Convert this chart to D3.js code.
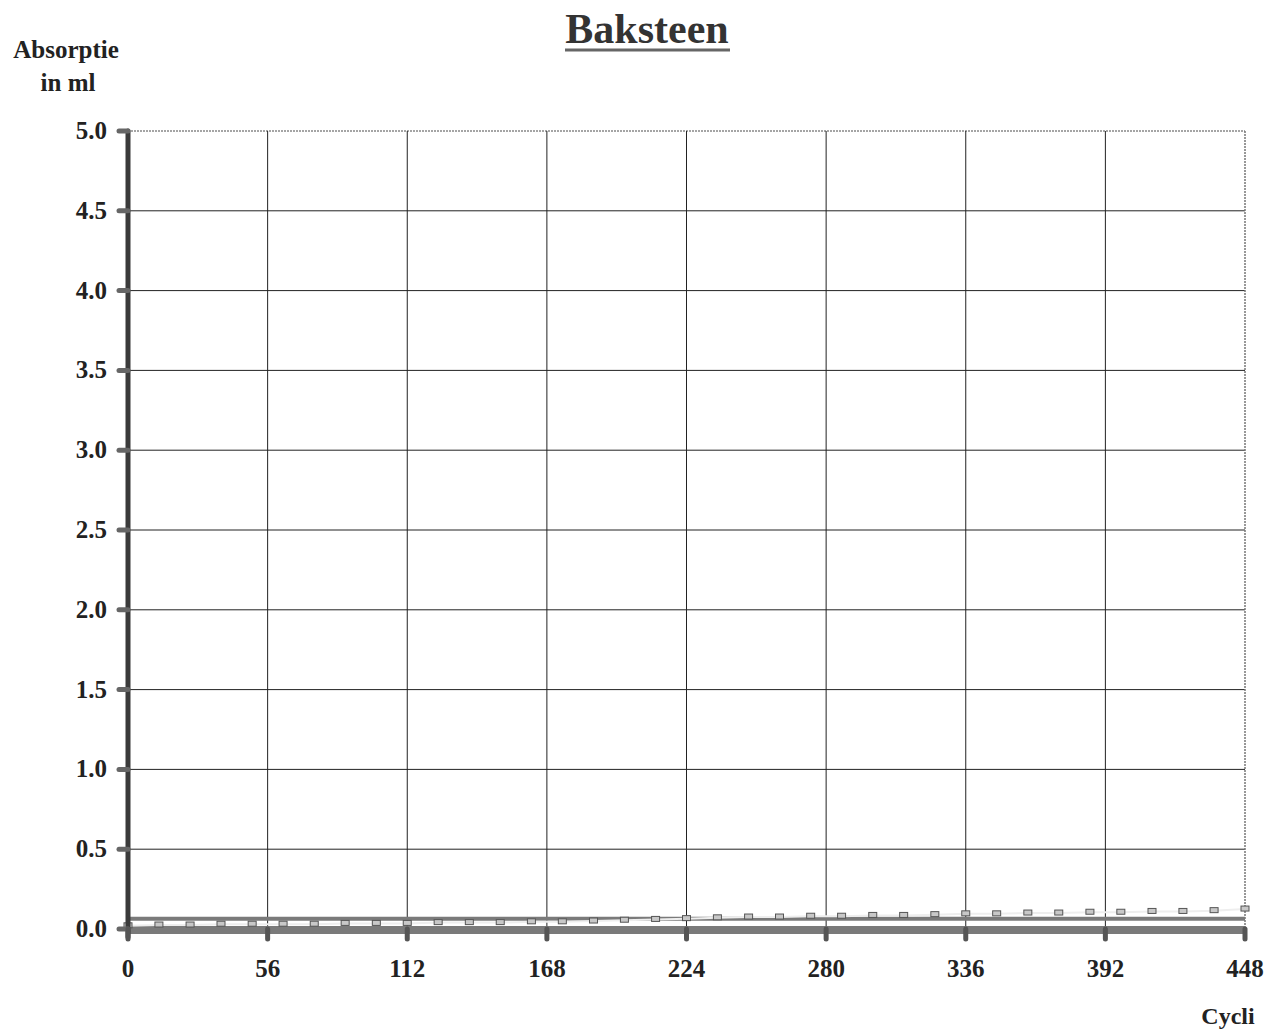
<!DOCTYPE html>
<html><head><meta charset="utf-8">
<script src="https://cdn.jsdelivr.net/npm/d3@7"></script>
<style>body{margin:0;background:#fff}svg{display:block}text{font-family:"Liberation Serif","Times New Roman",serif;font-weight:bold;fill:#222}</style>
</head><body>
<svg id="c" width="1278" height="1033"></svg>
<script>
const xTicks = [0,56,112,168,224,280,336,392,448];
const yTicks = [0.0,0.5,1.0,1.5,2.0,2.5,3.0,3.5,4.0,4.5,5.0];
const cycles = [0,12.4,24.9,37.3,49.8,62.2,74.7,87.1,99.6,112,124.4,136.9,149.3,161.8,174.2,186.7,199.1,211.6,224,236.4,248.9,261.3,273.8,286.2,298.7,311.1,323.6,336,348.4,360.9,373.3,385.8,398.2,410.7,423.1,435.6,448];
const seriesMarkers = [0.02,0.025,0.025,0.03,0.03,0.03,0.03,0.035,0.035,0.035,0.04,0.04,0.04,0.045,0.045,0.05,0.055,0.06,0.065,0.07,0.075,0.075,0.08,0.08,0.085,0.085,0.09,0.095,0.095,0.1,0.1,0.105,0.105,0.11,0.11,0.115,0.125];
const seriesBand = [0.065,0.065,0.065,0.065,0.065,0.065,0.065,0.065,0.065,0.065,0.065,0.065,0.065,0.065,0.065,0.065,0.065,0.065,0.065,0.065,0.065,0.065,0.065,0.065,0.065,0.065,0.065,0.065,0.065,0.065,0.065,0.065,0.065,0.065,0.065,0.065,0.065];

const svg = d3.select("#c");
const x = d3.scaleLinear().domain([0,448]).range([128,1245]);
const y = d3.scaleLinear().domain([0,5]).range([929,131]);

// title
svg.append("text").attr("x",647).attr("y",43).attr("text-anchor","middle")
  .style("font-size","42px").style("fill","#333").text("Baksteen");
svg.append("line").attr("x1",565).attr("x2",730).attr("y1",50).attr("y2",50)
  .attr("stroke","#666").attr("stroke-width",3);

svg.append("text").attr("x",66).attr("y",58).attr("text-anchor","middle").style("font-size","25px").text("Absorptie");
svg.append("text").attr("x",68).attr("y",91).attr("text-anchor","middle").style("font-size","25px").text("in ml");
svg.append("text").attr("x",1228).attr("y",1024).attr("text-anchor","middle").style("font-size","24px").text("Cycli");

// gridlines
svg.append("g").selectAll("line").data(yTicks.filter(d=>d>0 && d<5)).join("line")
  .attr("x1",x(0)).attr("x2",x(448)).attr("y1",d=>y(d)).attr("y2",d=>y(d))
  .attr("stroke","#222").attr("stroke-width",1);
svg.append("line").attr("x1",x(0)).attr("x2",x(448)).attr("y1",y(5)).attr("y2",y(5))
  .attr("stroke","#888").attr("stroke-width",1.5).attr("stroke-dasharray","2,1");
svg.append("g").selectAll("line").data(xTicks.filter(d=>d>0 && d<448)).join("line")
  .attr("x1",d=>x(d)).attr("x2",d=>x(d)).attr("y1",y(5)).attr("y2",y(0))
  .attr("stroke","#222").attr("stroke-width",1);
svg.append("line").attr("x1",x(448)).attr("x2",x(448)).attr("y1",y(5)).attr("y2",y(0))
  .attr("stroke","#777").attr("stroke-width",1.5).attr("stroke-dasharray","2,1");

// band series
const line = d3.line().x((d,i)=>x(cycles[i])).y(d=>y(d));
svg.append("path").datum(seriesBand).attr("d",line).attr("fill","none")
  .attr("stroke","#7a7a7a").attr("stroke-width",4);

// x axis thick
svg.append("line").attr("x1",x(0)).attr("x2",x(448)).attr("y1",y(0)+1).attr("y2",y(0)+1)
  .attr("stroke","#7a7a7a").attr("stroke-width",8);

// marker series
svg.append("path").datum(seriesMarkers).attr("d",line).attr("fill","none")
  .attr("stroke","#eee").attr("stroke-width",2);
svg.append("g").selectAll("rect").data(seriesMarkers).join("rect")
  .attr("x",(d,i)=>x(cycles[i])-4).attr("y",d=>y(d)-3).attr("width",8).attr("height",5)
  .attr("fill","#c8c8c8").attr("stroke","#555").attr("stroke-width",1);

// y axis
svg.append("line").attr("x1",x(0)).attr("x2",x(0)).attr("y1",y(5)).attr("y2",y(0)+8)
  .attr("stroke","#3a3a3a").attr("stroke-width",5).attr("stroke-linecap","round");

// y tick blobs
svg.append("g").selectAll("line").data(yTicks).join("line")
  .attr("x1",119).attr("x2",x(0)).attr("y1",d=>y(d)).attr("y2",d=>y(d))
  .attr("stroke","#666").attr("stroke-width",5).attr("stroke-linecap","round");
// x tick blobs
svg.append("g").selectAll("line").data(xTicks).join("line")
  .attr("x1",d=>x(d)).attr("x2",d=>x(d)).attr("y1",y(0)).attr("y2",y(0)+10)
  .attr("stroke","#555").attr("stroke-width",5).attr("stroke-linecap","round");

// tick labels
svg.append("g").selectAll("text").data(yTicks).join("text")
  .attr("x",107).attr("y",d=>y(d)+8).attr("text-anchor","end").style("font-size","25px")
  .text(d=>d.toFixed(1));
svg.append("g").selectAll("text").data(xTicks).join("text")
  .attr("x",d=>x(d)).attr("y",977).attr("text-anchor","middle").style("font-size","25px")
  .text(d=>d);
</script>
</body></html>
